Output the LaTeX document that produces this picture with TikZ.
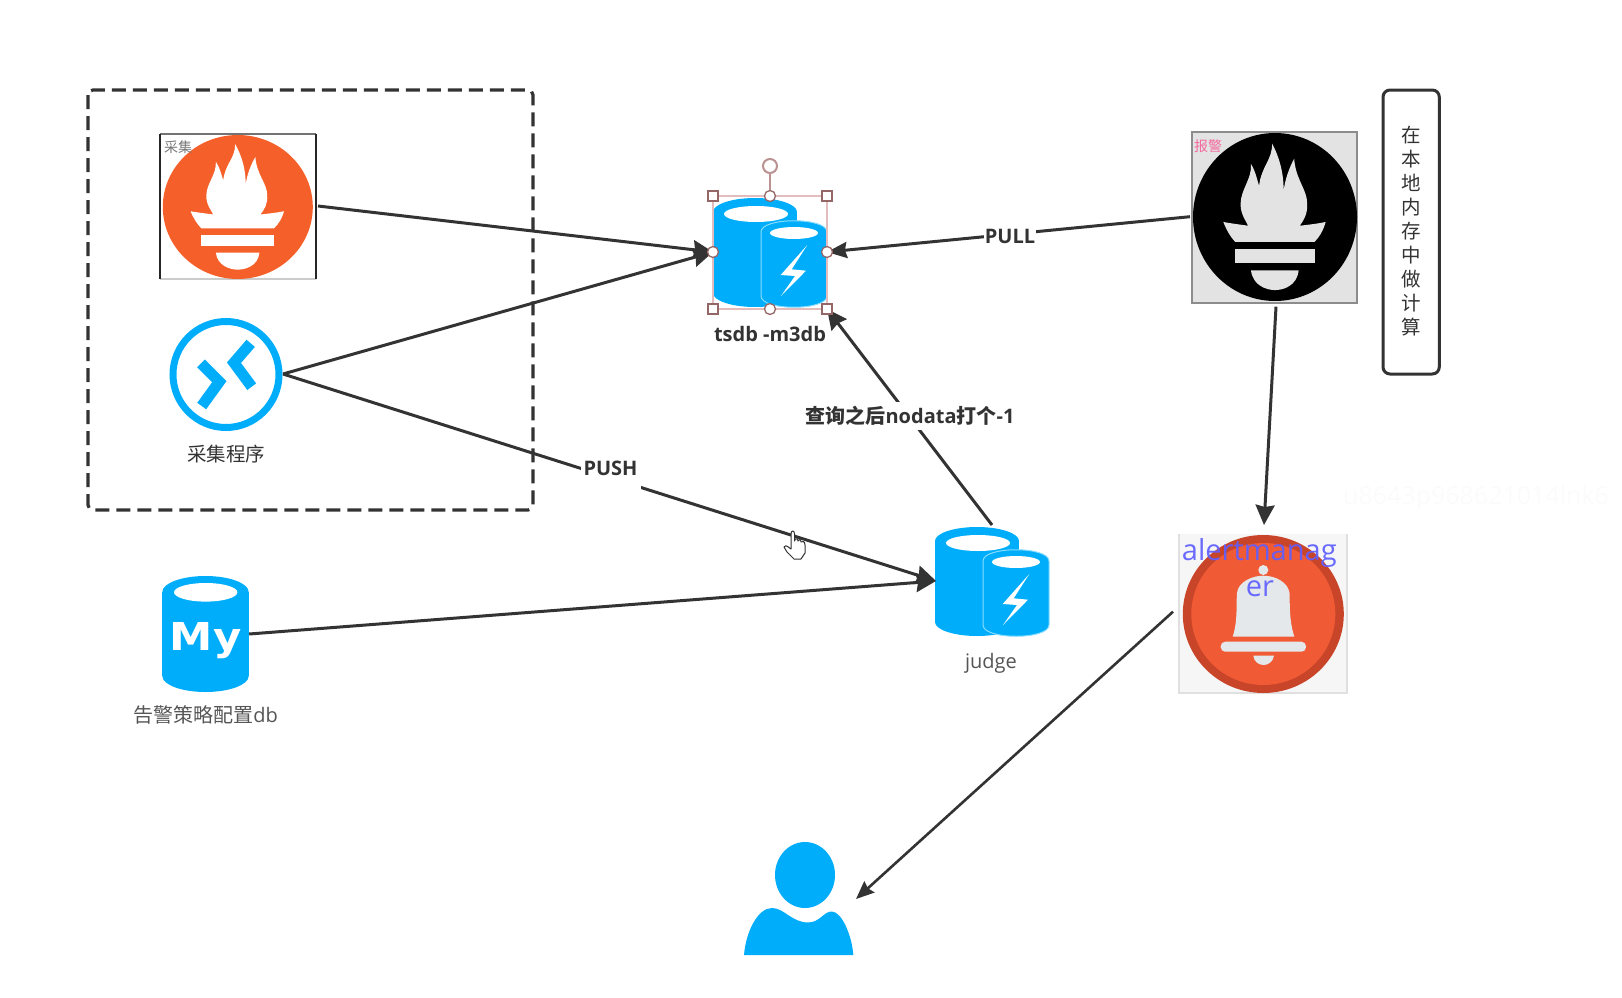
\documentclass[tikz,border=0pt]{standalone}
\usepackage{fontspec}
\setmainfont{Open Sans}
\newfontfamily\cjk{Noto Sans CJK SC}
\newfontfamily\myfont{DejaVu Sans}
\usetikzlibrary{arrows.meta}
\definecolor{azureblue}{HTML}{00ADFB}
\definecolor{azureedge}{HTML}{86DCFF}
\definecolor{promorange}{HTML}{F5602A}
\definecolor{inkdark}{HTML}{333333}
\definecolor{inkgray}{HTML}{555555}
\definecolor{handlered}{HTML}{946666}
\definecolor{selline}{HTML}{E3BDBD}
\definecolor{bellring}{HTML}{C9452A}
\definecolor{bellface}{HTML}{F05A35}
\definecolor{bellmetal}{HTML}{E4E8EA}
\definecolor{alerttextcol}{HTML}{5F5FFF}
\tikzset{
  x=1pt,y=-1pt,
  anchorbox/.style={inner sep=0pt,outer sep=0pt},
  flowline/.style={draw=inkdark,line width=3pt,-{Stealth[length=20pt,width=19pt,inset=2pt]}},
  flowthin/.style={draw=inkdark,line width=2.6pt,-{Stealth[length=18pt,width=15pt,inset=2pt]}},
  edgetext/.style={fill=white,inner sep=0pt,text=inkdark,font=\fontsize{20}{24}\selectfont\bfseries},
  captext/.style={inner sep=0pt,text=inkgray,font=\fontsize{20}{24}\selectfont},
  flamelogo/.pic={
    \fill[#1] (-.036,-.875) .. controls (-.03,-.68) and (-.17,-.6) .. (-.194,-.37)
      .. controls (-.22,-.45) and (-.24,-.55) .. (-.293,-.63)
      .. controls (-.28,-.45) and (-.42,-.33) .. (-.42,-.15)
      .. controls (-.42,-.03) and (-.35,.05) .. (-.329,.104)
      .. controls (-.42,.09) and (-.52,.08) .. (-.63,.059)
      .. controls (-.59,.16) and (-.54,.24) .. (-.486,.297)
      -- (.482,.297)
      .. controls (.54,.24) and (.59,.16) .. (.617,.059)
      .. controls (.52,.08) and (.42,.09) .. (.302,.104)
      .. controls (.36,.03) and (.4,-.05) .. (.392,-.167)
      .. controls (.39,-.33) and (.25,-.45) .. (.234,-.694)
      .. controls (.18,-.6) and (.12,-.45) .. (.104,-.30)
      .. controls (.11,-.5) and (.06,-.7) .. (-.036,-.875) -- cycle;
    \fill[#1] (-.486,.385) rectangle (.482,.545);
    \fill[#1] (-.293,.635) -- (.288,.635) .. controls (.27,.82) and (.1,.87) .. (0,.87)
      .. controls (-.1,.87) and (-.27,.82) .. (-.293,.635) -- cycle;
  },
  dualdb/.pic={
    \fill[azureblue] (0,14) rectangle (84,95);
    \fill[azureblue] (42,14) ellipse[x radius=42,y radius=14];
    \fill[azureblue] (42,95) ellipse[x radius=42,y radius=14];
    \fill[white] (43,16) ellipse[x radius=32,y radius=8];
    \path[fill=azureblue,draw=azureedge,line width=1pt] (48,34) -- (48,98)
      .. controls (48,113) and (114,113) .. (114,98) -- (114,34)
      .. controls (114,19) and (48,19) .. (48,34) -- cycle;
    \fill[white] (81,35) ellipse[x radius=24,y radius=6];
    \fill[white] (94.3,47) -- (67.7,77) -- (82,78) -- (68,98) -- (93,72.7) -- (78.7,71.3) -- cycle;
  },
  handlesq/.style={draw=handlered,fill=white,line width=1.3pt,minimum size=10pt,inner sep=0pt,outer sep=0pt},
  handlecirc/.style={circle,draw=handlered,fill=white,line width=1.3pt,minimum size=11pt,inner sep=0pt,outer sep=0pt}
}
\begin{document}
\begin{tikzpicture}
\useasboundingbox (0,0) rectangle (1622,998);

% invisible anchor nodes for the connectors
\node[anchorbox,minimum width=160pt,minimum height=146pt] (prom) at (238,206) {};
\node[anchorbox,minimum width=114pt,minimum height=114pt] (remote) at (226,374) {};
\node[anchorbox,minimum width=114pt,minimum height=114pt] (tsdb) at (770,252) {};
\node[anchorbox,minimum width=112pt,minimum height=112pt] (judge) at (992,581) {};
\node[anchorbox,minimum width=87pt,minimum height=116pt] (mysql) at (205.7,634) {};
\node[anchorbox,minimum width=172pt,minimum height=180pt] (blackprom) at (1276,216.7) {};
\node[anchorbox,minimum width=182pt,minimum height=173.4pt] (alert) at (1264,611.7) {};
\node[anchorbox,minimum width=116pt,minimum height=150pt] (person) at (798,899) {};

% dashed group
\draw[draw=inkdark,line width=3.2pt,dash pattern=on 14pt off 7pt,rounded corners=5pt] (88,90) rectangle (533,510);

% orange prometheus
\draw[draw=black!55,line width=1.4pt] (160,134) -- (316,134);
\draw[draw=black!20,line width=1.4pt] (160,279) -- (316,279);
\draw[draw=black!85,line width=2pt] (160,134) -- (160,279);
\draw[draw=black!85,line width=2pt] (316,134) -- (316,279);
\fill[promorange] (237.8,207) ellipse[x radius=75,y radius=72];
\pic[xscale=75,yscale=72] at (237.8,207) {flamelogo=white};
\node[inner sep=0pt,text=inkgray!80,font=\cjk\fontsize{14}{16}\selectfont] (caijismall) at (178,147) {采集};

% remote icon
\draw[draw=azureblue,line width=7pt] (226,374.5) circle[radius=53];
\draw[draw=azureblue,line width=11pt,miter limit=10] (250.7,343.3) -- (234,362.7) -- (251.7,386.7);
\draw[draw=azureblue,line width=11pt,miter limit=10] (201,363.3) -- (219.3,381.7) -- (201.7,406);
\node[captext,text=inkdark,font=\cjk\fontsize{19.5}{23}\selectfont] (remotecap) at (226,454.5) {采集程序};

% tsdb
\pic at (713,198) {dualdb};
\node[edgetext,fill=none] (tsdbcap) at (770,333.5) {tsdb -m3db};

% judge
\pic at (935,527) {dualdb};
\node[captext] (judgecap) at (991,663.5) {judge};

% mysql
\fill[azureblue] (162.3,592) rectangle (248.7,676);
\fill[azureblue] (205.5,592) ellipse[x radius=43.2,y radius=16];
\fill[azureblue] (205.5,676) ellipse[x radius=43.2,y radius=16];
\fill[white] (205.7,592.3) ellipse[x radius=31.7,y radius=9.3];
\node[inner sep=0pt,text=white,xscale=1.38,yscale=1.22,font=\myfont\fontsize{31.5}{36}\selectfont\bfseries] (mytext) at (205.7,641) {My};
\node[captext] (mysqlcap) at (205.7,715) {{\cjk 告警策略配置}db};

% black prometheus
\draw[fill=black!11,draw=black!45,line width=1.2pt] (1192,132) rectangle (1357,303);
\fill[black] (1275,217) ellipse[x radius=82,y radius=84];
\pic[xscale=82,yscale=84] at (1275,217) {flamelogo={black!11}};
\node[inner sep=0pt,text=magenta!70!red!60!white,font=\cjk\fontsize{14}{16}\selectfont] (baojing) at (1208,146) {报警};

% side note
\draw[draw=inkdark,line width=3pt,rounded corners=7pt] (1383,90) rectangle (1439.3,374);
\node[align=center,inner sep=0pt,text=inkdark,font=\cjk\fontsize{19.5}{24}\selectfont] (sidenote) at (1411,231) {在\\本\\地\\内\\存\\中\\做\\计\\算};

% alertmanager
\fill[black!3.5] (1179,534) rectangle (1346.7,693);
\draw[black!12,line width=2pt] (1179,534) -- (1179,693) -- (1346.7,693) -- (1346.7,534);
\fill[bellring] (1263.3,614) ellipse[x radius=80.5,y radius=79];
\fill[bellface] (1263.3,614) ellipse[x radius=72,y radius=71];
\fill[bellmetal] (1263.3,570) circle[radius=5];
\fill[bellmetal] (1232.7,636.7) .. controls (1238,620) and (1236,605) .. (1237,593)
  .. controls (1238,582) and (1252,575.7) .. (1263.3,575.7) .. controls (1275,575.7) and (1288,582) .. (1289.5,593)
  .. controls (1290,605) and (1289,620) .. (1294.3,636.7) -- cycle;
\fill[bellmetal,rounded corners=4.5pt] (1220.7,641.7) rectangle (1306,651.7);
\fill[bellmetal] (1253.3,655.7) -- (1274,655.7) .. controls (1273,662) and (1268,665) .. (1263.6,665) .. controls (1259,665) and (1254,662) .. (1253.3,655.7) -- cycle;
\node[inner sep=0pt,text=alerttextcol,text opacity=.92,font=\fontsize{29}{31}\selectfont] (alerttext1) at (1259.3,553) {alertmanag};
\node[inner sep=0pt,text=alerttextcol,text opacity=.92,font=\fontsize{29}{31}\selectfont] (alerttext2) at (1260,589) {er};

% person
\fill[azureblue] (805,875) ellipse[x radius=30,y radius=33];
\fill[azureblue] (744,955) .. controls (746,931) and (758,908) .. (772,908)
  .. controls (784,908) and (792,922.5) .. (808,922.5)
  .. controls (820,922.5) and (824,911) .. (832,911.5)
  .. controls (842,912) and (852,936) .. (853.3,955) -- cycle;

% faint watermark
\node[anchor=west,inner sep=0pt,text=black!1.5,font=\fontsize{25}{30}\selectfont] (watermark) at (1343,498) {u8643p968621014lnk6};

% connectors
\draw[flowline] (prom.east) -- (tsdb.west);
\draw[flowline] (remote.east) -- (tsdb.west);
\draw[flowline] (remote.east) -- (judge.west);
\draw[flowline] (mysql.east) -- (judge.west);
\draw[flowline] (judge.north) -- (tsdb.south east);
\draw[flowline,-{Stealth[length=20pt,width=16pt,inset=2pt]}] (blackprom.west) -- (tsdb.east);
\draw[flowline] (blackprom.south) -- (alert.north);
\draw[flowthin] (alert.west) -- (person.east);

% connector labels
\node[edgetext,anchor=base,minimum width=60pt,text height=14pt,text depth=16pt] (pushlabel) at (610.5,475) {PUSH};
\node[edgetext,minimum width=52pt] (pulllabel) at (1010,236.5) {PULL};
\node[edgetext,minimum height=28pt] (querylabel) at (910,416) {{\cjk\bfseries 查询之后}nodata{\cjk\bfseries 打个}-1};

% selection handles
\draw[draw=selline,line width=1.2pt] (713,196) rectangle (827,309);
\draw[draw=selline!50!handlered,line width=2pt] (770,196) -- (770,173);
\node[handlecirc,minimum size=14pt,draw=selline!50!handlered,line width=2pt] (rothandle) at (770,166) {};
\node[handlesq] (hnw) at (713,196) {};
\node[handlesq] (hne) at (827,196) {};
\node[handlesq] (hsw) at (713,309) {};
\node[handlesq] (hse) at (827,309) {};
\node[handlecirc] (hn) at (770,196) {};
\node[handlecirc] (hw) at (713,252) {};
\node[handlecirc] (he) at (827,252) {};
\node[handlecirc] (hs) at (770,309) {};

% mouse cursor
\draw[fill=white,draw=inkdark,line width=1pt,line join=round] (791,534) .. controls (791,530) and (794.5,530) .. (794.5,534)
  -- (794.5,541) .. controls (795,538) and (798,538) .. (798,541) .. controls (798.5,539) and (801,539) .. (801,542)
  .. controls (802,540.5) and (805,541) .. (805,545) -- (805,553) -- (801,559) -- (794,559) -- (787,552) -- (784,547)
  .. controls (784.5,545) and (786,545) .. (791,549) -- cycle;
\end{tikzpicture}
\end{document}
